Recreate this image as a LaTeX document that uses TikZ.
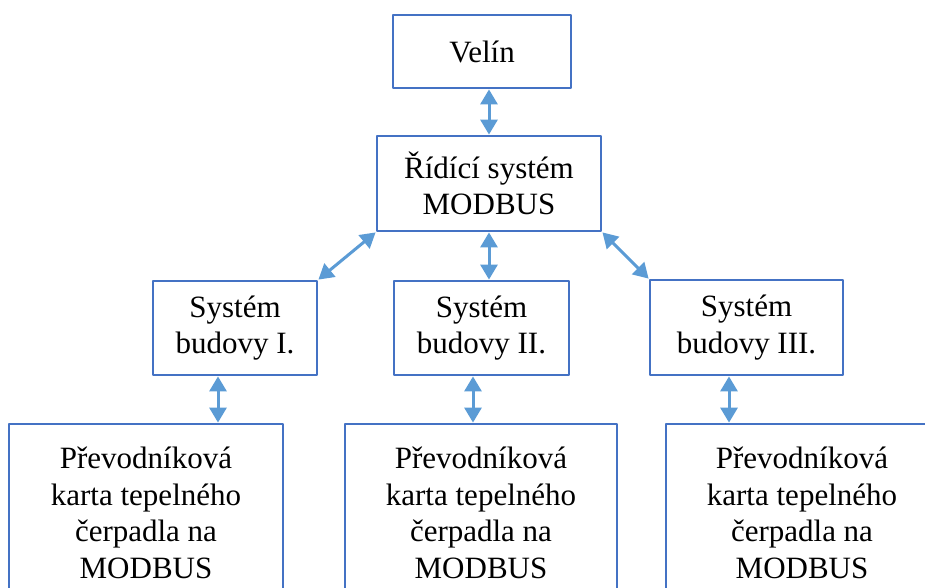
\documentclass[tikz,border=0pt]{standalone}
\usepackage{fontspec}
\setmainfont{Liberation Serif}
\usetikzlibrary{arrows.meta}

\definecolor{boxblue}{HTML}{4472C4}
\definecolor{arrowblue}{HTML}{5B9BD5}

\begin{document}
\begin{tikzpicture}[x=1pt,y=1pt,line cap=round,line join=round,
    >={Triangle[length=15pt,width=17pt]},
    blok/.style={draw=boxblue,line width=2.8pt,fill=white,inner sep=0pt,align=center,
      font=\fontsize{31}{36.5}\selectfont},
    spoj/.style={<->,draw=arrowblue,fill=arrowblue,line width=3pt,line cap=butt}]
      \useasboundingbox (0,0) rectangle (925,-587);
      \clip (0,0) rectangle (925,-587);
      \node[blok,minimum width=178pt,minimum height=73pt] (velin) at (482,-51.5) {Velín};
      \node[blok,minimum width=224pt,minimum height=95pt] (ridici) at (489,-183.5) {Řídící systém\\MODBUS};
      \node[blok,minimum width=164pt,minimum height=94pt] (sys1) at (235,-328) {Systém\\budovy I.};
      \node[blok,minimum width=175pt,minimum height=94pt] (sys2) at (481.5,-328) {Systém\\budovy II.};
      \node[blok,minimum width=193pt,minimum height=95pt] (sys3) at (746.5,-327.5) {Systém\\budovy III.};
      \node[blok,minimum width=274pt,minimum height=178pt] (karta1) at (146,-513) {Převodníková\\karta tepelného\\čerpadla na\\MODBUS};
      \node[blok,minimum width=272pt,minimum height=178pt] (karta2) at (481,-513) {Převodníková\\karta tepelného\\čerpadla na\\MODBUS};
      \node[blok,minimum width=272pt,minimum height=178pt] (karta3) at (802,-513) {Převodníková\\karta tepelného\\čerpadla na\\MODBUS};
      \draw [spoj] (ridici.north |- velin.south) -- (ridici.north);
      \draw [spoj] (ridici.south) -- (ridici.south |- sys2.north);
      \draw [spoj] (ridici.south west) -- (sys1.north east);
      \draw [spoj] (ridici.south east) -- (sys3.north west);
      \draw [spoj] ([xshift=-17pt]sys1.south) -- ([xshift=-17pt]sys1.south |- karta1.north);
      \draw [spoj] ([xshift=-8.5pt]sys2.south) -- ([xshift=-8.5pt]sys2.south |- karta2.north);
      \draw [spoj] ([xshift=-17.5pt]sys3.south) -- ([xshift=-17.5pt]sys3.south |- karta3.north);
\end{tikzpicture}
\end{document}
